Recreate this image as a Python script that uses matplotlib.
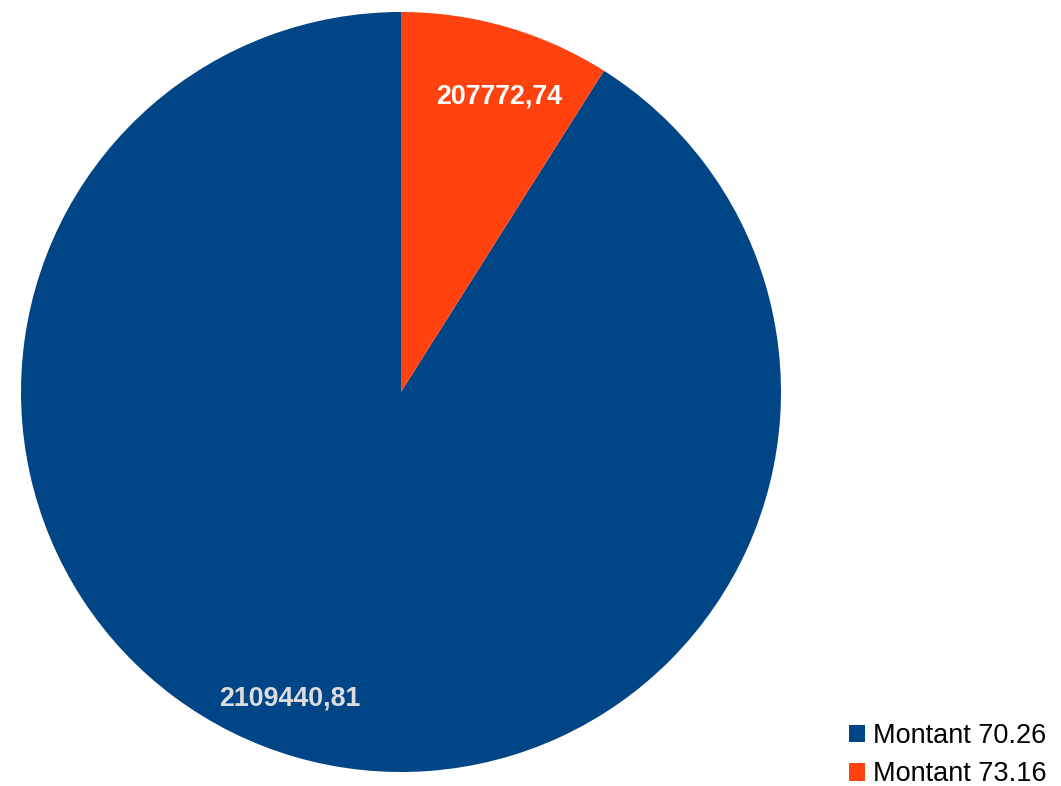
import matplotlib.pyplot as plt

plt.rcParams['font.family'] = ['Liberation Sans', 'DejaVu Sans']

# data
names = ['Montant 70.26', 'Montant 73.16']
values = [2109440.81, 207772.74]
colors = ['#004586', '#ff420e']
label_colors = ['#dddddd', '#ffffff']

W, H = 1061, 786
fig = plt.figure(figsize=(W / 100, H / 100), dpi=100)

# pie centre (401, 392) px, radius 380 px
cx, cy, r = 401, 392, 380
ax = fig.add_axes([(cx - r) / W, (H - cy - r) / H, 2 * r / W, 2 * r / H])

vals = iter(values)


def fmt(pct):
    v = next(vals)
    return ('%.2f' % v).replace('.', ',')


wedges, texts, autotexts = ax.pie(values, colors=colors, startangle=90,
                                  counterclock=True, autopct=fmt,
                                  pctdistance=0.84,
                                  wedgeprops=dict(linewidth=0))
# small nudges so the labels sit where LibreOffice puts them
nudges = [(-0.058, 0.0), (0.026, -0.03)]
for t, c, (dx, dy) in zip(autotexts, label_colors, nudges):
    x, y = t.get_position()
    t.set_position((x + dx, y + dy))
    t.set_color(c)
    t.set_fontsize(19.3)
    t.set_fontweight('bold')

ax.set_xlim(-1, 1)
ax.set_ylim(-1, 1)

fig.legend(wedges, names, loc='lower left',
           bbox_to_anchor=(835 / W, -15 / H), frameon=False,
           fontsize=19.5, handlelength=0.6, handleheight=0.6,
           handletextpad=0.3, labelspacing=0.47, borderpad=0)

fig.savefig('out.png', dpi=100)
